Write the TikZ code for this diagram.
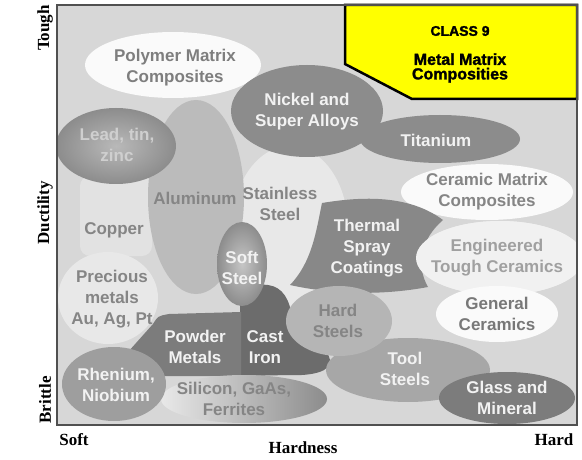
\documentclass[tikz,border=0pt]{standalone}
\usepackage{fontspec}
\setmainfont{Liberation Serif}
\newfontfamily\lsans{Liberation Sans}
\newfontfamily\heavy[BoldFeatures={FakeBold=1.6}]{Liberation Sans}
\definecolor{bg}{HTML}{D7D7D7}
\definecolor{lite}{HTML}{E8E8E8}
\definecolor{copc}{HTML}{E2E2E2}
\definecolor{wht}{HTML}{FAFAFA}
\definecolor{engc}{HTML}{F1F1F1}
\definecolor{nick}{HTML}{8C8C8C}
\definecolor{alu}{HTML}{BBBBBB}
\definecolor{therm}{HTML}{888888}
\definecolor{cast}{HTML}{6C6C6C}
\definecolor{powd}{HTML}{7C7C7C}
\definecolor{rhen}{HTML}{9E9E9E}
\definecolor{tool}{HTML}{A7A7A7}
\definecolor{hard}{HTML}{B5B5B5}
\definecolor{glass}{HTML}{7C7C7C}
\definecolor{txtw}{HTML}{F2F2F2}
\definecolor{txtg}{HTML}{858585}
\definecolor{txtl}{HTML}{A0A0A0}
\definecolor{txtlead}{HTML}{CFCFCF}
\definecolor{framec}{HTML}{505050}
\definecolor{ylw}{HTML}{FFFF00}
\begin{document}
\begin{tikzpicture}[x=1pt,y=-1pt,
  lbl/.style={font=\lsans\bfseries\fontsize{17}{21}\selectfont, align=center, inner sep=0pt},
  wlbl/.style={lbl, text=txtw},
  glbl/.style={lbl, text=txtg},
  axislbl/.style={font=\bfseries\fontsize{17}{18}\selectfont, inner sep=0pt}]
\useasboundingbox (0,0) rectangle (582,460);
\fill[white] (0,0) rectangle (582,460);
\fill[bg] (57,5) rectangle (577,425);
\begin{scope}
\clip (57,5) rectangle (577,425);
% lighter background regions
\fill[lite] (290,228) ellipse [x radius=58pt, y radius=82pt];
\fill[copc, rounded corners=10pt] (80,176) rectangle (152,256);
% Polymer matrix composites
\fill[wht] (173,65) ellipse [x radius=88pt, y radius=33pt];
% Titanium and Nickel
\fill[nick] (440,139) ellipse [x radius=80pt, y radius=24pt];
\fill[nick] (307,111) ellipse [x radius=76pt, y radius=46pt];
% Aluminum
\fill[alu] (196,197) ellipse [x radius=48pt, y radius=97pt];
% Lead tin zinc
\shade[inner color=gray!55, outer color=gray!110!black] (116,146) ellipse [x radius=60pt, y radius=38pt];
% Ceramic matrix composites
\fill[engc] (500,258) ellipse [x radius=84pt, y radius=37pt];
\fill[wht] (487,192) ellipse [x radius=86pt, y radius=28pt];
% Thermal spray
\fill[therm] (322,203) .. controls (370,195) and (412,197) .. (443,220)
  .. controls (420,240) and (416,266) .. (428,287)
  .. controls (380,296) and (330,294) .. (290,285)
  .. controls (312,262) and (316,232) .. (322,203) -- cycle;
\fill[engc] (500,258) ellipse [x radius=84pt, y radius=37pt];
\fill[wht] (497,314) ellipse [x radius=61pt, y radius=28pt];
% Cast iron
\fill[cast] (240,300) .. controls (242,288) and (255,283) .. (268,285)
  .. controls (283,287) and (290,300) .. (292,318)
  .. controls (305,330) and (325,340) .. (330,360)
  .. controls (332,372) and (310,376) .. (290,375) -- (240,376) -- cycle;
% Soft steel
\shade[inner color=gray!45, outer color=gray!110!black] (242,264) ellipse [x radius=25pt, y radius=42pt];
% Powder metals
\fill[powd] (128,352) -- (153,324) .. controls (158,316) .. (169,314) -- (241,312) -- (241,376) -- (160,376) -- cycle;
% Precious metals light region
\fill[lite] (108,298) ellipse [x radius=50pt, y radius=46pt];
% Silicon, Rhenium
\shade[left color=gray!18, middle color=gray!28, right color=gray!90] (244,399) ellipse [x radius=83pt, y radius=24pt];
\fill[rhen] (114,384) ellipse [x radius=52pt, y radius=37pt];
% Tool, Hard, Glass
\fill[tool] (408,370) ellipse [x radius=82pt, y radius=32pt];
\fill[hard] (339,321) ellipse [x radius=53pt, y radius=35pt];
\fill[glass] (507,398) ellipse [x radius=68pt, y radius=26pt];
\end{scope}
% yellow class box
\filldraw[fill=ylw, draw=black, line width=2.5pt, line join=miter]
  (345,5) -- (577,5) -- (577,99) -- (412,99) -- (345,64) -- cycle;
% frame
\draw[framec, line width=1.6pt] (57,5) rectangle (577,425);
% texts
\node[font=\heavy\bfseries\fontsize{14}{16}\selectfont, inner sep=0pt] (cls) at (460,31) {CLASS 9};
\node[font=\heavy\bfseries\fontsize{16}{14.5}\selectfont, align=center, inner sep=0pt] (mmc) at (460,68) {Metal Matrix\\Composities};
\node[glbl, text=txtg!95!black] (pmc) at (175,68) {Polymer Matrix\\Composites};
\node[wlbl] (ni) at (307,112) {Nickel and\\Super Alloys};
\node[wlbl] (ti) at (436,140) {Titanium};
\node[lbl, text=txtlead] (pb) at (117,145) {Lead, tin,\\zinc};
\node[lbl, text=txtg] (al) at (195,198) {Aluminum};
\node[glbl] (ss) at (280,204) {Stainless\\Steel};
\node[glbl] (cu) at (114,230) {Copper};
\node[glbl] (pm) at (112,299) {Precious\\metals\\Au, Ag, Pt};
\node[wlbl] (sst) at (242,268) {Soft\\Steel};
\node[wlbl] (tsc) at (367,248) {Thermal\\Spray\\Coatings};
\node[glbl] (cmc) at (487,192) {Ceramic Matrix\\Composites};
\node[lbl, text=txtl] (etc) at (497,258) {Engineered\\Tough Ceramics};
\node[glbl, text=txtg!90!black] (gc) at (497,314) {General\\Ceramics};
\node[glbl] (hs) at (338,321) {Hard\\Steels};
\node[wlbl] (pw) at (195,347) {Powder\\Metals};
\node[wlbl] (ci) at (265,347) {Cast\\Iron};
\node[wlbl] (ts) at (405,369) {Tool\\Steels};
\node[wlbl] (rn) at (116,385) {Rhenium,\\Niobium};
\node[glbl] (si) at (234,399) {Silicon, GaAs,\\Ferrites};
\node[wlbl] (gm) at (507,398) {Glass and\\Mineral};
% axis labels
\node[axislbl, rotate=90] (tough) at (45,28) {Tough};
\node[axislbl, rotate=90] (duct) at (45,213) {Ductility};
\node[axislbl, rotate=90] (brit) at (45,400) {Brittle};
\node[axislbl] (soft) at (74,440) {Soft};
\node[axislbl] (hness) at (303,448) {Hardness};
\node[axislbl] (hrd) at (554,440) {Hard};
\end{tikzpicture}
\end{document}
